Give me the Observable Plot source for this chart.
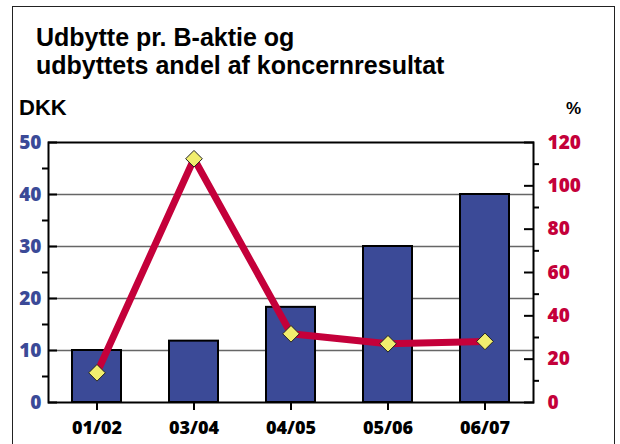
<!DOCTYPE html>
<html><head><meta charset="utf-8">
<script src="https://cdn.jsdelivr.net/npm/d3@7"></script>
<script src="https://cdn.jsdelivr.net/npm/@observablehq/plot@0.6"></script>
<style>
body{margin:0;background:#fff;}
#wrap{position:relative;width:620px;height:444px;overflow:hidden;font-family:"Liberation Sans",Arial,sans-serif;color:#000;}
#frame{position:absolute;left:12px;top:6px;width:603px;height:460px;border:1.5px solid #222;box-sizing:border-box;}
#title{position:absolute;left:36px;top:24.2px;font-size:25px;font-weight:bold;line-height:27.6px;white-space:nowrap;}
#dkk{position:absolute;left:19px;top:97.4px;font-size:22px;line-height:22px;font-weight:bold;}
#pct{position:absolute;left:566px;top:100px;font-size:17px;line-height:17px;font-weight:bold;}
#chart{position:absolute;left:0;top:0;}
</style></head><body>
<div id="wrap">
<div id="frame"></div>
<div id="title">Udbytte pr. B-aktie og<br>udbyttets andel af koncernresultat</div>
<div id="dkk">DKK</div><div id="pct">%</div>
<div id="chart"></div>
</div>
<script>
const periods = ["01/02", "03/04", "04/05", "05/06", "06/07"];
const dividendDKK = [10, 11.8, 18.3, 30, 40];
const payoutPct = [13.7, 112.5, 31.7, 27.1, 28.2];
const leftTicks = [0, 10, 20, 30, 40, 50];
const leftMinor = [5, 15, 25, 35, 45];
const gridTicks = [10, 20, 30, 40];
const rightTicks = [0, 20, 40, 60, 80, 100, 120];
const rightMinor = [10, 30, 50, 70, 90, 110];
const leftMax = 50, rightMax = 120;
const k = leftMax / rightMax;

const blue = "#3b4a97", red = "#c4003a", yellow = "#f1ee6e";
const bars = periods.map((p, i) => ({period: p, value: dividendDKK[i]}));
const line = periods.map((p, i) => ({period: p, pct: payoutPct[i]}));
const numFont = "'Open Sans', sans-serif";

const chart = Plot.plot({
  width: 620, height: 444,
  marginLeft: 48, marginRight: 87, marginTop: 142, marginBottom: 42,
  x: {domain: periods, paddingInner: 0.5, paddingOuter: 0.25, axis: null},
  y: {domain: [0, leftMax], axis: null},
  style: {background: "transparent", fontFamily: numFont},
  marks: [
    Plot.gridY(gridTicks, {stroke: "#666", strokeOpacity: 1, strokeWidth: 1.5}),
    Plot.barY(bars, {x: "period", y: "value", fill: blue, stroke: "#000", strokeWidth: 2}),
    Plot.line(line, {x: "period", y: d => d.pct * k, stroke: red, strokeWidth: 7}),
    Plot.dot(line, {x: "period", y: d => d.pct * k, symbol: "diamond2", r: 7.5, fill: yellow, stroke: "#222", strokeWidth: 1}),
    Plot.frame({stroke: "#000", strokeWidth: 2}),
    // left axis
    Plot.axisY(leftTicks, {anchor: "left", tickSize: 9, insetLeft: 9, tickFormat: () => "", stroke: "#000", strokeWidth: 2, label: null}),
    Plot.axisY(leftMinor, {anchor: "left", tickSize: 6, tickFormat: () => "", stroke: "#000", strokeWidth: 2, label: null}),
    Plot.axisY(leftTicks, {anchor: "left", tickSize: 0, tickPadding: 7, fill: blue, fontSize: 19, fontWeight: 800, label: null}),
    // right axis (percent mapped onto the DKK scale)
    Plot.axisY(rightTicks, {anchor: "right", y: d => d * k, tickSize: 10, insetRight: 10, tickFormat: () => "", text: () => "", stroke: "#000", strokeWidth: 2, label: null}),
    Plot.axisY(rightMinor, {anchor: "right", y: d => d * k, tickSize: 5, tickFormat: () => "", text: () => "", stroke: "#000", strokeWidth: 2, label: null}),
    Plot.axisY(rightTicks, {anchor: "right", y: d => d * k, tickSize: 0, tickPadding: 14, text: d => String(d), fill: red, fontSize: 19, fontWeight: 800, label: null}),
    // bottom axis
    Plot.axisX({tickSize: 8, tickPadding: 11, stroke: "#000", strokeWidth: 2, fill: "#000", fontSize: 18, fontWeight: 800, label: null})
  ]
});
document.getElementById("chart").appendChild(chart);
</script>
</body></html>
